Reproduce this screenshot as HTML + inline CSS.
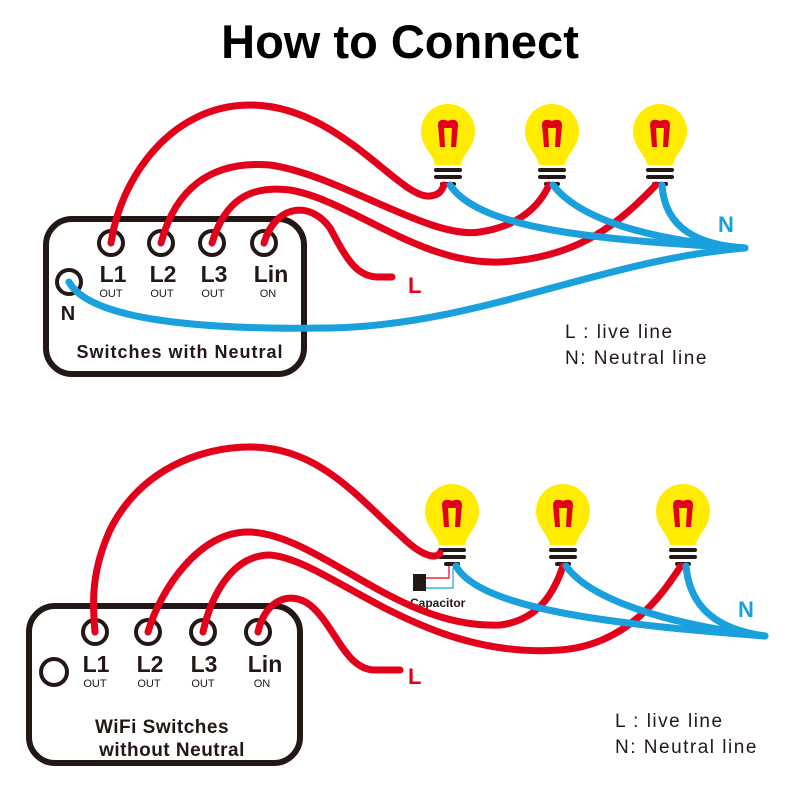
<!DOCTYPE html>
<html><head><meta charset="utf-8"><style>
html,body{margin:0;padding:0;background:#fff;}
svg{display:block;}
text{font-family:"Liberation Sans",sans-serif;}
</style></head><body>
<svg width="800" height="800" viewBox="0 0 800 800" xmlns="http://www.w3.org/2000/svg">
<defs>
<g id="bulb">
  <path d="M-13,28 C-14,18 -27,10 -27,-6 A27,27 0 1 1 27,-6 C27,10 14,18 13,28 Z" fill="#ffec00"/>
  <path d="M-10,-12 C-10,-18 -4,-18 0,-16 C4,-18 10,-18 10,-12 L8,10 L3,10 L4,-9 L-4,-9 L-3,10 L-8,10 Z" fill="#e3001b"/>
  <rect x="-14" y="31" width="28" height="4" rx="2" fill="#231815"/>
  <rect x="-14" y="38" width="28" height="4" rx="2" fill="#231815"/>
  <rect x="-8" y="45" width="16" height="4" rx="2" fill="#231815"/>
</g>
</defs>
<text x="400" y="58" text-anchor="middle" font-size="47" font-weight="bold" fill="#000">How to Connect</text>

<!-- TOP -->
<rect x="46" y="219" width="258" height="155" rx="26" fill="none" stroke="#231815" stroke-width="6"/>
<g fill="#fff" stroke="#231815" stroke-width="4">
<circle cx="111" cy="243" r="12"/><circle cx="161" cy="243" r="12"/><circle cx="212" cy="243" r="12"/><circle cx="264" cy="243" r="12"/><circle cx="69" cy="282" r="12"/>
</g>
<g fill="#231815" font-weight="bold" text-anchor="middle">
<text x="113" y="282" font-size="23">L1</text><text x="163" y="282" font-size="23">L2</text><text x="214" y="282" font-size="23">L3</text><text x="271" y="282" font-size="23">Lin</text>
<text x="68" y="320" font-size="20">N</text>
<text x="180" y="358" font-size="18" letter-spacing="1">Switches  with Neutral</text>
</g>
<g fill="#231815" font-size="11" text-anchor="middle">
<text x="111" y="297">OUT</text><text x="162" y="297">OUT</text><text x="213" y="297">OUT</text><text x="268" y="297">ON</text>
</g>
<use href="#bulb" x="448" y="137"/><use href="#bulb" x="552" y="137"/><use href="#bulb" x="660" y="137"/>
<g fill="none" stroke-width="7" stroke-linecap="round">
<path d="M111,243 C120,180 170,105 250,105 C340,105 400,200 430,196 C440,195 442,190 444,185" stroke="#e3001b"/>
<path d="M161,243 C175,190 210,160 270,165 C340,175 430,240 480,232 C520,226 540,205 549,185" stroke="#e3001b"/>
<path d="M212,243 C225,200 250,185 290,190 C350,200 420,265 500,262 C580,258 620,222 656,185" stroke="#e3001b"/>
<path d="M264,243 C275,205 310,200 330,228 C345,255 355,278 380,277 L392,277" stroke="#e3001b"/>
<path d="M450,185 C480,230 600,240 745,248" stroke="#1aa0dc"/>
<path d="M553,185 C580,220 650,240 745,248" stroke="#1aa0dc"/>
<path d="M662,185 C665,230 700,245 745,248" stroke="#1aa0dc"/>
<path d="M69,282 C90,320 200,330 330,328 C480,325 600,260 745,248" stroke="#1aa0dc"/>
</g>
<text x="718" y="232" font-size="22" font-weight="bold" fill="#1aa0dc">N</text>
<text x="408" y="293" font-size="22" font-weight="bold" fill="#e3001b">L</text>
<text x="565" y="338" font-size="19" letter-spacing="1.5" fill="#231815">L : live  line</text>
<text x="565" y="364" font-size="19" letter-spacing="1.5" fill="#231815">N: Neutral line</text>

<!-- BOTTOM -->
<rect x="29" y="606" width="271" height="157" rx="26" fill="none" stroke="#231815" stroke-width="6"/>
<g fill="#fff" stroke="#231815" stroke-width="4">
<circle cx="95" cy="632" r="12"/><circle cx="148" cy="632" r="12"/><circle cx="203" cy="632" r="12"/><circle cx="258" cy="632" r="12"/><circle cx="54" cy="672" r="13"/>
</g>
<g fill="#231815" font-weight="bold" text-anchor="middle">
<text x="96" y="672" font-size="23">L1</text><text x="150" y="672" font-size="23">L2</text><text x="204" y="672" font-size="23">L3</text><text x="265" y="672" font-size="23">Lin</text>
<text x="162" y="733" font-size="19" letter-spacing="0.5">WiFi Switches</text>
<text x="172" y="756" font-size="19" letter-spacing="0.5">without Neutral</text>
</g>
<g fill="#231815" font-size="11" text-anchor="middle">
<text x="95" y="687">OUT</text><text x="149" y="687">OUT</text><text x="203" y="687">OUT</text><text x="262" y="687">ON</text>
</g>
<use href="#bulb" x="452" y="517"/><use href="#bulb" x="563" y="517"/><use href="#bulb" x="683" y="517"/>
<rect x="413" y="574" width="13" height="17" fill="#231815"/>
<path d="M426,578 L449,578 L449,566" fill="none" stroke="#e3001b" stroke-width="1.2"/>
<path d="M426,588 L453,588 L453,568" fill="none" stroke="#1aa0dc" stroke-width="1.2"/>
<text x="410" y="607" font-size="12" font-weight="bold" fill="#231815">Capacitor</text>
<g fill="none" stroke-width="7" stroke-linecap="round">
<path d="M95,632 C92,600 92,570 110,530 C140,470 200,447 250,447 C320,447 360,500 400,535 C420,555 435,560 440,553" stroke="#e3001b"/>
<path d="M148,632 C160,590 200,530 250,532 C320,535 400,630 500,625 C540,620 555,590 563,566" stroke="#e3001b"/>
<path d="M203,632 C210,600 230,555 270,555 C330,560 420,660 560,650 C630,645 665,590 681,566" stroke="#e3001b"/>
<path d="M258,632 C265,600 290,590 310,605 C335,625 345,670 375,670 L400,670" stroke="#e3001b"/>
<path d="M456,566 C480,610 620,625 765,636" stroke="#1aa0dc"/>
<path d="M566,566 C590,600 670,625 765,636" stroke="#1aa0dc"/>
<path d="M686,566 C690,610 720,630 765,636" stroke="#1aa0dc"/>
</g>
<text x="738" y="617" font-size="22" font-weight="bold" fill="#1aa0dc">N</text>
<text x="408" y="684" font-size="22" font-weight="bold" fill="#e3001b">L</text>
<text x="615" y="727" font-size="19" letter-spacing="1.5" fill="#231815">L : live  line</text>
<text x="615" y="753" font-size="19" letter-spacing="1.5" fill="#231815">N: Neutral line</text>
</svg>
</body></html>
